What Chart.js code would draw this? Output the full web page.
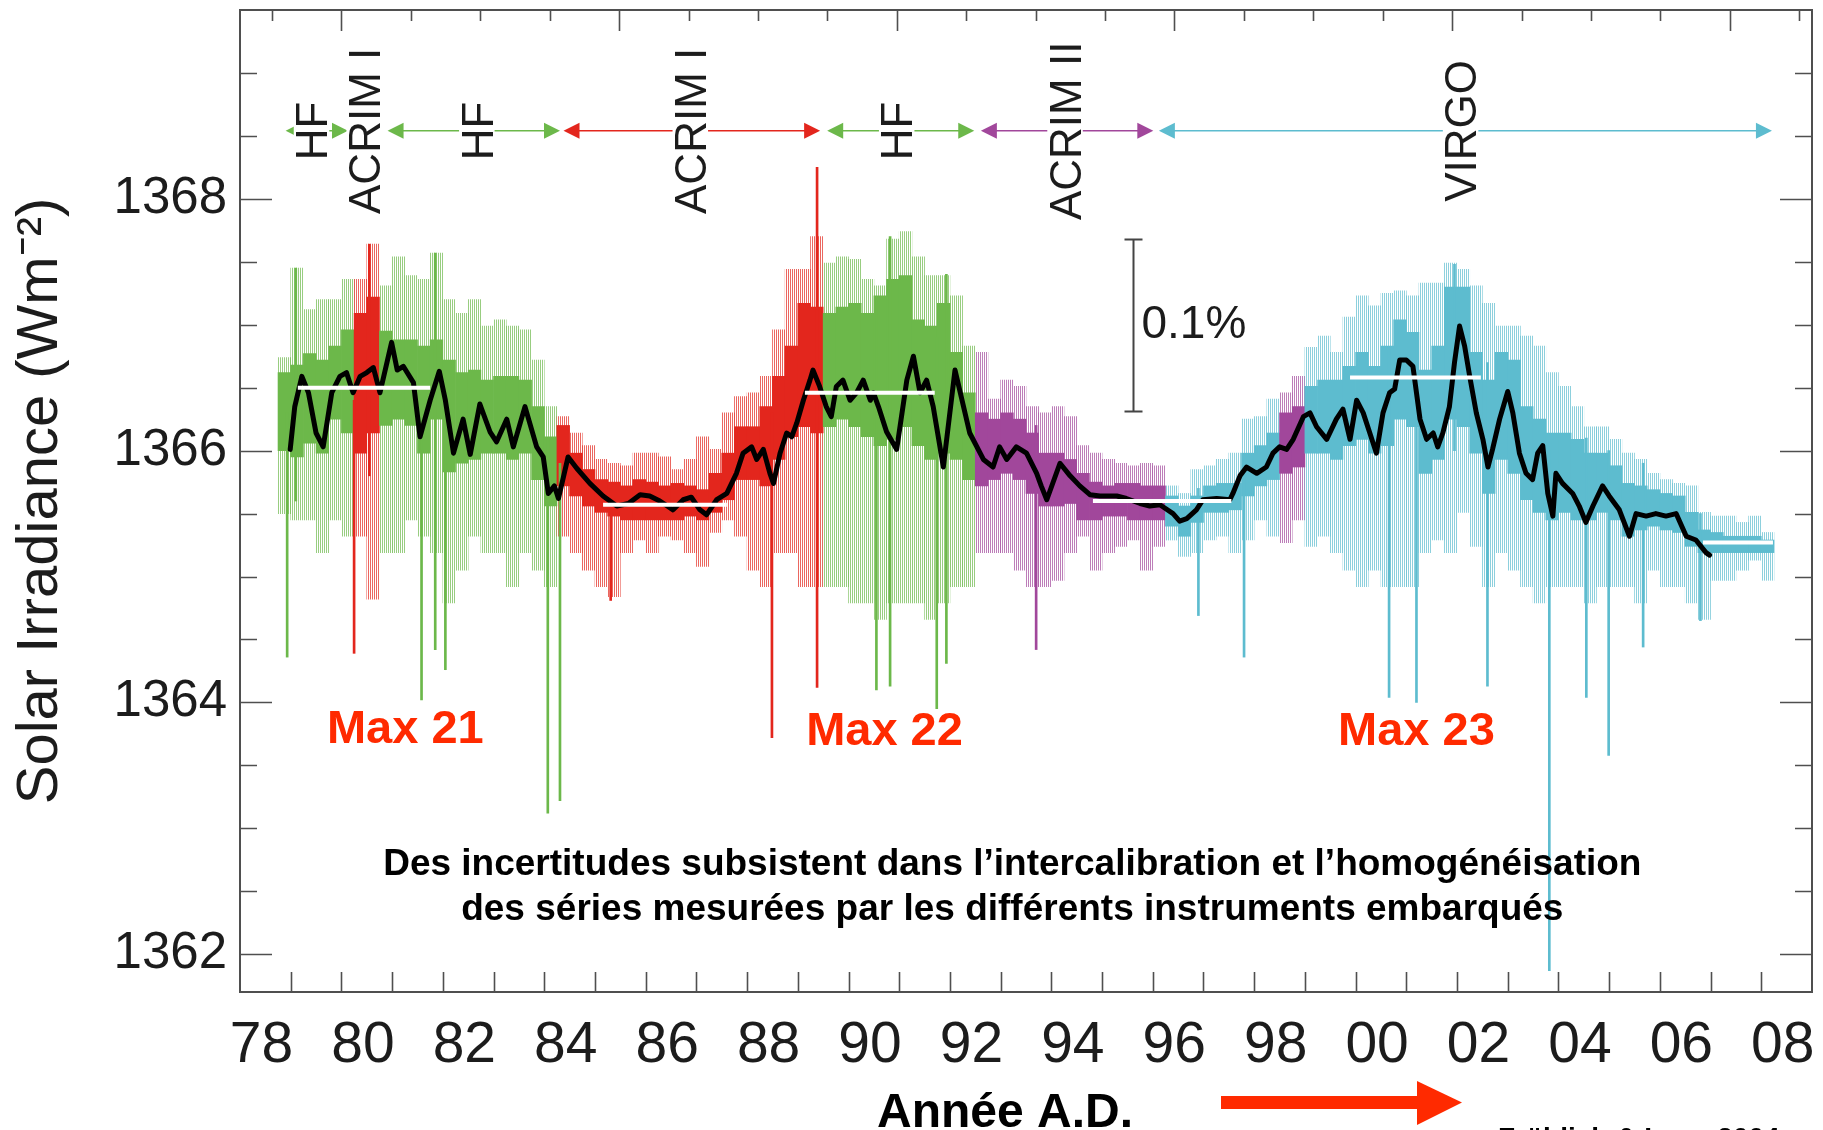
<!DOCTYPE html>
<html>
<head>
<meta charset="utf-8">
<title>Solar Irradiance composite</title>
<script src="https://cdn.jsdelivr.net/npm/chart.js@4.4.1/dist/chart.umd.min.js"></script>
<style>
  html, body { margin: 0; padding: 0; background: #fff; }
  #wrap { width: 1823px; height: 1130px; overflow: hidden; }
</style>
</head>
<body>
<div id="wrap"><canvas id="tsi" width="1823" height="1130"></canvas></div>
<script>
// Daily irradiance, summarised in quarter-year bins (dense core + spread of the spikes)
const binStart = 1978.875;
const binStep = 0.25;
// H = HF, A = ACRIM I, B = ACRIM II, V = VIRGO
const binSource = [
  'H','H','H','H','H','H','A','A','H','H',
  'H','H','H','H','H','H','H','H','H','H',
  'H','H','A','A','A','A','A','A','A','A',
  'A','A','A','A','A','A','A','A','A','A',
  'A','A','A','H','H','H','H','H','H','H',
  'H','H','H','H','H','B','B','B','B','B',
  'B','B','B','B','B','B','B','B','B','B',
  'V','V','V','V','V','V','V','V','V','B',
  'B','V','V','V','V','V','V','V','V','V',
  'V','V','V','V','V','V','V','V','V','V',
  'V','V','V','V','V','V','V','V','V','V',
  'V','V','V','V','V','V','V','V'
];
const coreLow = [
  1366.00, 1365.95, 1366.06, 1365.98, 1366.25, 1366.14, 1365.98, 1366.14, 1366.20, 1366.25,
  1366.20, 1365.98, 1366.25, 1365.83, 1365.90, 1365.93, 1365.98, 1365.98, 1365.93, 1365.98,
  1365.77, 1365.56, 1365.72, 1365.64, 1365.56, 1365.51, 1365.48, 1365.45, 1365.45, 1365.45,
  1365.45, 1365.45, 1365.48, 1365.45, 1365.51, 1365.61, 1365.77, 1365.77, 1365.72, 1365.93,
  1366.11, 1366.19, 1366.14, 1366.19, 1366.25, 1366.19, 1366.11, 1366.04, 1366.09, 1366.19,
  1366.04, 1365.93, 1365.98, 1365.93, 1365.77, 1365.72, 1365.77, 1365.82, 1365.77, 1365.66,
  1365.56, 1365.56, 1365.58, 1365.45, 1365.45, 1365.48, 1365.48, 1365.45, 1365.45, 1365.45,
  1365.40, 1365.32, 1365.43, 1365.51, 1365.51, 1365.53, 1365.64, 1365.72, 1365.77, 1365.82,
  1365.87, 1365.98, 1365.98, 1365.93, 1366.04, 1366.09, 1365.98, 1366.04, 1366.25, 1366.19,
  1365.82, 1365.93, 1366.25, 1366.19, 1365.98, 1365.66, 1365.93, 1365.82, 1365.61, 1365.51,
  1365.45, 1365.51, 1365.45, 1365.45, 1365.51, 1365.45, 1365.32, 1365.37, 1365.40, 1365.37,
  1365.35, 1365.24, 1365.19, 1365.19, 1365.19, 1365.19, 1365.19, 1365.19
];
const coreHigh = [
  1366.62, 1366.68, 1366.77, 1366.72, 1366.83, 1366.96, 1367.09, 1367.22, 1366.95, 1366.88,
  1366.88, 1366.83, 1366.88, 1366.72, 1366.62, 1366.64, 1366.56, 1366.59, 1366.59, 1366.56,
  1366.35, 1366.11, 1366.20, 1365.98, 1365.85, 1365.77, 1365.75, 1365.72, 1365.77, 1365.75,
  1365.72, 1365.74, 1365.72, 1365.69, 1365.82, 1365.98, 1366.19, 1366.19, 1366.35, 1366.59,
  1366.83, 1367.17, 1367.14, 1367.09, 1367.14, 1367.17, 1367.09, 1367.23, 1367.36, 1367.39,
  1367.04, 1366.99, 1367.17, 1366.78, 1366.46, 1366.30, 1366.25, 1366.30, 1366.25, 1366.14,
  1365.98, 1365.98, 1365.93, 1365.82, 1365.75, 1365.72, 1365.74, 1365.74, 1365.72, 1365.72,
  1365.64, 1365.56, 1365.64, 1365.72, 1365.74, 1365.74, 1365.98, 1366.04, 1366.14, 1366.30,
  1366.35, 1366.51, 1366.56, 1366.56, 1366.67, 1366.78, 1366.67, 1366.83, 1367.04, 1366.94,
  1366.64, 1366.83, 1367.30, 1367.30, 1366.78, 1366.56, 1366.78, 1366.72, 1366.35, 1366.25,
  1366.14, 1366.14, 1366.09, 1365.98, 1365.98, 1365.88, 1365.74, 1365.72, 1365.69, 1365.66,
  1365.64, 1365.51, 1365.37, 1365.35, 1365.32, 1365.32, 1365.32, 1365.29
];
const spreadLow = [
  1365.50, 1365.45, 1365.45, 1365.19, 1365.45, 1365.32, 1365.32, 1364.82, 1365.19, 1365.19,
  1365.45, 1365.32, 1365.19, 1364.79, 1365.05, 1365.32, 1365.19, 1365.19, 1364.92, 1365.19,
  1365.05, 1364.92, 1365.32, 1365.19, 1365.05, 1364.92, 1364.84, 1365.19, 1365.29, 1365.19,
  1365.32, 1365.29, 1365.19, 1365.08, 1365.35, 1365.45, 1365.32, 1365.05, 1364.92, 1365.19,
  1365.19, 1364.92, 1364.92, 1364.92, 1364.92, 1364.79, 1364.79, 1364.66, 1364.79, 1364.79,
  1364.79, 1364.66, 1364.79, 1364.92, 1364.92, 1365.19, 1365.19, 1365.19, 1365.05, 1364.92,
  1364.92, 1364.97, 1365.19, 1365.32, 1365.05, 1365.19, 1365.24, 1365.29, 1365.05, 1365.24,
  1365.29, 1365.16, 1365.19, 1365.29, 1365.32, 1365.19, 1365.29, 1365.45, 1365.32, 1365.27,
  1365.45, 1365.24, 1365.32, 1365.19, 1365.05, 1364.92, 1365.05, 1364.92, 1364.92, 1364.92,
  1365.19, 1365.29, 1365.19, 1365.51, 1365.24, 1364.92, 1365.19, 1365.05, 1364.92, 1364.79,
  1364.92, 1364.92, 1364.92, 1364.79, 1364.92, 1364.92, 1364.92, 1364.79, 1365.05, 1364.92,
  1364.92, 1364.79, 1364.66, 1364.97, 1364.97, 1365.05, 1365.13, 1364.97
];
const spreadHigh = [
  1366.74, 1367.45, 1367.12, 1367.20, 1367.20, 1367.36, 1367.36, 1367.64, 1367.31, 1367.54,
  1367.39, 1367.36, 1367.57, 1367.20, 1367.09, 1367.20, 1366.99, 1367.04, 1366.99, 1366.96,
  1366.72, 1366.35, 1366.27, 1366.14, 1366.04, 1365.93, 1365.90, 1365.88, 1365.98, 1365.98,
  1365.95, 1365.85, 1365.93, 1366.11, 1366.01, 1366.30, 1366.43, 1366.46, 1366.59, 1366.96,
  1367.44, 1367.44, 1367.70, 1367.49, 1367.54, 1367.52, 1367.36, 1367.31, 1367.68, 1367.74,
  1367.54, 1367.39, 1367.39, 1367.23, 1366.83, 1366.78, 1366.41, 1366.56, 1366.51, 1366.35,
  1366.30, 1366.35, 1366.27, 1366.04, 1365.98, 1365.93, 1365.90, 1365.88, 1365.90, 1365.88,
  1365.72, 1365.66, 1365.85, 1365.88, 1365.93, 1365.98, 1366.25, 1366.27, 1366.41, 1366.46,
  1366.59, 1366.82, 1366.91, 1366.78, 1367.06, 1367.23, 1367.15, 1367.25, 1367.27, 1367.23,
  1367.33, 1367.33, 1367.49, 1367.44, 1367.31, 1367.17, 1366.99, 1366.99, 1366.91, 1366.83,
  1366.62, 1366.51, 1366.35, 1366.19, 1366.19, 1366.09, 1365.98, 1365.93, 1365.82, 1365.77,
  1365.74, 1365.72, 1365.51, 1365.48, 1365.48, 1365.43, 1365.48, 1365.35
];

// Single long excursions (flares, sunspot passages, gaps)
const spikeYear = [1978.93, 1979.10, 1980.25, 1980.55, 1981.58, 1981.85, 1982.05, 1984.07, 1984.31, 1985.31,
                   1988.49, 1989.38, 1990.55, 1990.82, 1991.74, 1991.93, 1993.70, 1996.90, 1997.80, 2000.66,
                   2001.20, 2001.95, 2002.60, 2003.82, 2004.55, 2004.99, 2005.67, 2006.80];
const spikeLow = [1364.36, 1365.60, 1364.39, 1365.80, 1364.02, 1364.42, 1364.26, 1363.12, 1363.22, 1364.81,
                  1363.72, 1364.12, 1364.10, 1364.13, 1363.95, 1364.31, 1364.42, 1364.69, 1364.36, 1364.04,
                  1364.00, 1366.00, 1364.13, 1361.87, 1364.04, 1363.58, 1364.44, 1364.65];
const spikeHigh = [1366.30, 1367.45, 1366.40, 1367.64, 1366.20, 1367.57, 1366.00, 1366.10, 1365.90, 1365.70,
                   1366.30, 1368.25, 1367.20, 1367.70, 1366.90, 1367.40, 1366.20, 1365.70, 1365.90, 1366.80,
                   1366.90, 1367.48, 1366.70, 1366.00, 1366.10, 1366.00, 1365.90, 1365.50];
const spikeSource = ['H','H','A','A','H','H','H','H','H','A',
                     'A','A','H','H','H','H','B','V','V','V',
                     'V','V','V','V','V','V','V','V'];

// 81-day running mean of the composite
const smoothYears = [
  1978.99, 1979.08, 1979.22, 1979.35, 1979.50, 1979.64, 1979.81, 1979.97, 1980.10, 1980.23,
  1980.37, 1980.50, 1980.63, 1980.76, 1980.99, 1981.10, 1981.22, 1981.42, 1981.55, 1981.75,
  1981.93, 1982.05, 1982.21, 1982.40, 1982.54, 1982.73, 1982.93, 1983.06, 1983.26, 1983.39,
  1983.62, 1983.85, 1983.98, 1984.08, 1984.20, 1984.28, 1984.47, 1984.64, 1984.90, 1985.16,
  1985.43, 1985.66, 1985.89, 1986.08, 1986.28, 1986.54, 1986.74, 1986.90, 1987.07, 1987.20,
  1987.40, 1987.60, 1987.79, 1987.92, 1988.09, 1988.19, 1988.32, 1988.45, 1988.52, 1988.65,
  1988.78, 1988.88, 1988.98, 1989.11, 1989.24, 1989.30, 1989.43, 1989.56, 1989.66, 1989.76,
  1989.89, 1990.03, 1990.16, 1990.29, 1990.43, 1990.49, 1990.59, 1990.75, 1990.95, 1991.15,
  1991.28, 1991.41, 1991.54, 1991.67, 1991.87, 1992.10, 1992.39, 1992.66, 1992.85, 1992.98,
  1993.12, 1993.31, 1993.51, 1993.71, 1993.80, 1993.91, 1994.17, 1994.37, 1994.56, 1994.76,
  1994.96, 1995.29, 1995.48, 1995.75, 1995.94, 1996.14, 1996.40, 1996.53, 1996.67, 1996.86,
  1996.99, 1997.26, 1997.52, 1997.58, 1997.72, 1997.85, 1998.05, 1998.24, 1998.37, 1998.50,
  1998.64, 1998.77, 1998.97, 1999.10, 1999.23, 1999.43, 1999.62, 1999.75, 1999.89, 2000.02,
  2000.15, 2000.28, 2000.41, 2000.54, 2000.67, 2000.77, 2000.87, 2001.00, 2001.13, 2001.27,
  2001.40, 2001.53, 2001.62, 2001.72, 2001.85, 2001.95, 2002.05, 2002.15, 2002.25, 2002.38,
  2002.51, 2002.61, 2002.70, 2002.84, 2003.00, 2003.10, 2003.23, 2003.36, 2003.49, 2003.59,
  2003.69, 2003.79, 2003.89, 2003.95, 2004.08, 2004.28, 2004.41, 2004.54, 2004.68, 2004.87,
  2005.00, 2005.20, 2005.40, 2005.53, 2005.73, 2005.92, 2006.12, 2006.32, 2006.52, 2006.71,
  2006.91, 2006.98
];
const smoothValues = [
  1366.01, 1366.35, 1366.59, 1366.46, 1366.14, 1366.03, 1366.46, 1366.59, 1366.62, 1366.46,
  1366.59, 1366.62, 1366.66, 1366.46, 1366.86, 1366.64, 1366.67, 1366.54, 1366.11, 1366.40,
  1366.63, 1366.40, 1365.98, 1366.25, 1365.97, 1366.37, 1366.15, 1366.07, 1366.25, 1366.03,
  1366.35, 1366.03, 1365.95, 1365.66, 1365.72, 1365.62, 1365.95, 1365.86, 1365.74, 1365.64,
  1365.56, 1365.58, 1365.65, 1365.64, 1365.60, 1365.53, 1365.61, 1365.63, 1365.53, 1365.49,
  1365.61, 1365.66, 1365.82, 1365.98, 1366.03, 1365.93, 1366.01, 1365.82, 1365.74, 1365.98,
  1366.14, 1366.11, 1366.22, 1366.40, 1366.56, 1366.64, 1366.51, 1366.35, 1366.27, 1366.51,
  1366.56, 1366.40, 1366.46, 1366.56, 1366.40, 1366.46, 1366.35, 1366.15, 1366.01, 1366.56,
  1366.75, 1366.46, 1366.56, 1366.35, 1365.87, 1366.64, 1366.14, 1365.93, 1365.87, 1366.03,
  1365.93, 1366.03, 1365.98, 1365.82, 1365.72, 1365.61, 1365.90, 1365.80, 1365.72, 1365.65,
  1365.64, 1365.64, 1365.62, 1365.58, 1365.56, 1365.57, 1365.50, 1365.44, 1365.46, 1365.53,
  1365.61, 1365.62, 1365.61, 1365.66, 1365.80, 1365.87, 1365.82, 1365.87, 1365.98, 1366.03,
  1366.01, 1366.09, 1366.27, 1366.30, 1366.19, 1366.09, 1366.25, 1366.33, 1366.09, 1366.40,
  1366.30, 1366.14, 1365.98, 1366.30, 1366.46, 1366.49, 1366.72, 1366.72, 1366.67, 1366.25,
  1366.09, 1366.14, 1366.03, 1366.14, 1366.35, 1366.70, 1366.99, 1366.83, 1366.59, 1366.30,
  1366.09, 1365.87, 1366.01, 1366.25, 1366.47, 1366.30, 1365.98, 1365.82, 1365.77, 1365.98,
  1366.04, 1365.66, 1365.48, 1365.82, 1365.74, 1365.66, 1365.56, 1365.43, 1365.56, 1365.72,
  1365.64, 1365.53, 1365.32, 1365.50, 1365.48, 1365.50, 1365.48, 1365.50, 1365.32, 1365.29,
  1365.19, 1365.17
];

// Mean levels around each maximum and minimum
const levelStart = [1979.14, 1985.16, 1989.14, 1994.82, 1999.89, 2006.85];
const levelEnd = [1981.75, 1987.60, 1991.70, 1997.55, 2002.47, 2008.23];
const levelValue = [1366.50, 1365.57, 1366.46, 1365.60, 1366.58, 1365.27];

// Operating periods of the radiometers
const arrowStart = [1978.90, 1980.91, 1984.38, 1989.58, 1992.61, 1996.12];
const arrowEnd = [1980.13, 1984.31, 1989.44, 1992.48, 1996.01, 2008.21];
const arrowSource = ['H', 'H', 'A', 'H', 'B', 'V'];
const instrumentNames = ['HF', 'ACRIM I', 'HF', 'ACRIM I', 'HF', 'ACRIM II', 'VIRGO'];
const instrumentYears = [1979.41, 1980.45, 1982.67, 1986.88, 1990.95, 1994.27, 2002.07];
const arrowLevel = 1368.54;

const cycleNames = ['Max 21', 'Max 22', 'Max 23'];
const cycleYears = [1981.26, 1990.71, 2001.20];
const cycleLabelValue = [1363.68, 1363.66, 1363.66];

const scaleBarYear = 1995.61;
const scaleBarBase = 1366.31;
const scaleBarFraction = 0.001;

const noteLines = [
  'Des incertitudes subsistent dans l\u2019intercalibration et l\u2019homog\u00e9n\u00e9isation',
  'des s\u00e9ries mesur\u00e9es par les diff\u00e9rents instruments embarqu\u00e9s'
];
const noteYear = 1993.23;
const noteValues = [1362.63, 1362.27];

const SANS = '"Liberation Sans", Arial, Helvetica, sans-serif';
const INK = '#1c1c1c';
const FRAME = '#4f4f4f';
const ACCENT = '#ff2a00';
const sourceColor = { H: '#6cb84a', A: '#e3261d', B: '#a1479b', V: '#5dbccf' };

const canvas = document.getElementById('tsi');
const ctx2d = canvas.getContext('2d');

// thin vertical hatching for the spike spread
function stripePattern(color) {
  const tile = document.createElement('canvas');
  tile.width = 2;
  tile.height = 1;
  const t = tile.getContext('2d');
  t.globalAlpha = 0.7;
  t.fillStyle = color;
  t.fillRect(0, 0, 1, 1);
  return ctx2d.createPattern(tile, 'repeat');
}
const sourceHaze = {};
Object.keys(sourceColor).forEach(k => { sourceHaze[k] = stripePattern(sourceColor[k]); });

const binYears = coreLow.map((_, i) => binStart + i * binStep);
const hazeData = binYears.map((x, i) => ({ x, y: [spreadLow[i], spreadHigh[i]] }));
const coreData = binYears.map((x, i) => ({ x, y: [coreLow[i], coreHigh[i]] }));
const spikeData = spikeYear.map((x, i) => ({ x, y: [spikeLow[i], spikeHigh[i]] }));
const smoothData = smoothYears.map((x, i) => ({ x, y: smoothValues[i] }));
const levelData = [];
levelStart.forEach((s, i) => {
  levelData.push({ x: s, y: levelValue[i] }, { x: levelEnd[i], y: levelValue[i] }, { x: levelEnd[i], y: null });
});

const xMin = 1978, xMax = 2009;

// frame with inward tick marks on all four sides
const framePlugin = {
  id: 'frame',
  afterDatasetsDraw(chart) {
    const { ctx, chartArea: a, scales: { x, y } } = chart;
    ctx.save();
    ctx.strokeStyle = FRAME;
    ctx.lineWidth = 1.6;
    ctx.beginPath();
    x.ticks.forEach(t => {
      if (t.value <= xMin || t.value >= xMax) return;
      const px = Math.round(x.getPixelForValue(t.value)) + 0.5;
      ctx.moveTo(px, a.bottom);
      ctx.lineTo(px, a.bottom - 20);
    });
    // top axis counts days from 1980, a tick every 500 days
    const dayMin = (xMin - 1980) * 365.25, dayMax = (xMax - 1980) * 365.25;
    for (let d = Math.ceil(dayMin / 500) * 500; d < dayMax; d += 500) {
      const px = Math.round(x.getPixelForValue(1980 + d / 365.25)) + 0.5;
      ctx.moveTo(px, a.top);
      ctx.lineTo(px, a.top + (d % 2000 === 0 ? 21 : 11));
    }
    y.ticks.forEach(t => {
      if (t.value <= y.min || t.value >= y.max) return;
      const py = Math.round(y.getPixelForValue(t.value)) + 0.5;
      const len = t.value % 2 === 0 ? 32 : 17;
      ctx.moveTo(a.left, py);
      ctx.lineTo(a.left + len, py);
      ctx.moveTo(a.right, py);
      ctx.lineTo(a.right - len, py);
    });
    ctx.stroke();
    ctx.lineWidth = 2;
    ctx.strokeRect(a.left, a.top, a.right - a.left, a.bottom - a.top);
    ctx.restore();
  }
};

function arrowHead(ctx, tipX, y, dir, len, half) {
  ctx.beginPath();
  ctx.moveTo(tipX, y);
  ctx.lineTo(tipX + dir * len, y - half);
  ctx.lineTo(tipX + dir * len, y + half);
  ctx.closePath();
  ctx.fill();
}

// instrument periods, cycle labels, 0.1 % bar and the slide captions
const notesPlugin = {
  id: 'notes',
  afterDraw(chart) {
    const { ctx, scales: { x, y } } = chart;
    ctx.save();

    const ay = y.getPixelForValue(arrowLevel);
    arrowStart.forEach((s, i) => {
      const x0 = x.getPixelForValue(s), x1 = x.getPixelForValue(arrowEnd[i]);
      const c = sourceColor[arrowSource[i]];
      ctx.strokeStyle = c;
      ctx.fillStyle = c;
      ctx.lineWidth = 1.5;
      ctx.beginPath();
      ctx.moveTo(x0 + 8, ay);
      ctx.lineTo(x1 - 8, ay);
      ctx.stroke();
      arrowHead(ctx, x0, ay, 1, 16, 8);
      arrowHead(ctx, x1, ay, -1, 16, 8);
    });

    const labelSize = 44;
    const capH = labelSize * 0.716;
    ctx.font = labelSize + 'px ' + SANS;
    instrumentNames.forEach((name, i) => {
      const cx = x.getPixelForValue(instrumentYears[i]);
      const w = ctx.measureText(name).width;
      ctx.save();
      ctx.translate(cx, ay);
      ctx.rotate(-Math.PI / 2);
      ctx.fillStyle = '#fff';
      ctx.fillRect(-w / 2 - 3, -capH / 2 - 2, w + 6, capH + 4);
      ctx.fillStyle = INK;
      ctx.textAlign = 'center';
      ctx.textBaseline = 'alphabetic';
      ctx.fillText(name, 0, capH / 2);
      ctx.restore();
    });

    // 0.1 % of the irradiance as a vertical bar
    const bx = Math.round(x.getPixelForValue(scaleBarYear)) + 0.5;
    const bTop = y.getPixelForValue(scaleBarBase * (1 + scaleBarFraction));
    const bBot = y.getPixelForValue(scaleBarBase);
    ctx.strokeStyle = '#444';
    ctx.lineWidth = 2;
    ctx.beginPath();
    ctx.moveTo(bx, bTop); ctx.lineTo(bx, bBot);
    ctx.moveTo(bx - 9, bTop); ctx.lineTo(bx + 9, bTop);
    ctx.moveTo(bx - 9, bBot); ctx.lineTo(bx + 9, bBot);
    ctx.stroke();
    ctx.fillStyle = INK;
    ctx.font = '46px ' + SANS;
    ctx.textAlign = 'left';
    ctx.textBaseline = 'alphabetic';
    ctx.fillText((scaleBarFraction * 100).toFixed(1) + '%', bx + 8, (bTop + bBot) / 2 + 12);

    ctx.fillStyle = ACCENT;
    ctx.font = 'bold 47px ' + SANS;
    ctx.textAlign = 'center';
    cycleNames.forEach((name, i) => {
      ctx.fillText(name, x.getPixelForValue(cycleYears[i]), y.getPixelForValue(cycleLabelValue[i]));
    });

    ctx.fillStyle = '#000';
    ctx.font = 'bold 37px ' + SANS;
    noteLines.forEach((line, i) => {
      ctx.fillText(line, x.getPixelForValue(noteYear), y.getPixelForValue(noteValues[i]));
    });

    // axis caption with the time arrow
    ctx.font = 'bold 48px ' + SANS;
    ctx.fillText('Ann\u00e9e A.D.', 1005, 1127);
    ctx.fillStyle = ACCENT;
    ctx.fillRect(1221, 1096, 197, 13);
    ctx.beginPath();
    ctx.moveTo(1417, 1081);
    ctx.lineTo(1462, 1102.5);
    ctx.lineTo(1417, 1125);
    ctx.closePath();
    ctx.fill();

    ctx.fillStyle = '#000';
    ctx.font = 'bold 28px ' + SANS;
    ctx.textAlign = 'left';
    ctx.fillText('Fr\u00f6hlich & Lean 2004', 1498, 1147);
    ctx.restore();
  }
};

// keep the plot frame where it is, whatever the tick labels need
function pinBox(size) {
  return s => {
    if (s.isHorizontal()) s.height = size; else s.width = size;
    s.paddingTop = 0;
    s.paddingBottom = 0;
    s.paddingLeft = 0;
    s.paddingRight = 0;
  };
}

new Chart(canvas, {
  type: 'bar',
  data: {
    datasets: [
      {
        label: 'spread',
        data: hazeData,
        xAxisID: 'x',
        grouped: false,
        barPercentage: 1,
        categoryPercentage: 1,
        borderWidth: 0,
        backgroundColor: c => sourceHaze[binSource[c.dataIndex]],
        order: 6
      },
      {
        label: 'daily core',
        data: coreData,
        xAxisID: 'x',
        grouped: false,
        barPercentage: 1,
        categoryPercentage: 1,
        borderWidth: 0,
        backgroundColor: c => sourceColor[binSource[c.dataIndex]],
        order: 5
      },
      {
        label: 'spikes',
        data: spikeData,
        xAxisID: 'xs',
        grouped: false,
        barThickness: 2,
        borderWidth: 0,
        backgroundColor: c => sourceColor[spikeSource[c.dataIndex]],
        order: 4
      },
      {
        type: 'line',
        label: '81-day mean',
        data: smoothData,
        xAxisID: 'x',
        borderColor: '#000',
        borderWidth: 5,
        borderJoinStyle: 'round',
        borderCapStyle: 'round',
        pointRadius: 0,
        tension: 0,
        order: 2
      },
      {
        type: 'line',
        label: 'cycle levels',
        data: levelData,
        xAxisID: 'x',
        borderColor: '#fff',
        borderWidth: 4,
        pointRadius: 0,
        spanGaps: false,
        order: 1
      }
    ]
  },
  options: {
    responsive: false,
    animation: false,
    devicePixelRatio: 1,
    layout: { padding: { top: 10, right: 11, bottom: 0, left: 0 } },
    plugins: { legend: { display: false }, tooltip: { enabled: false } },
    scales: {
      x: {
        type: 'linear',
        min: xMin,
        max: xMax,
        offset: false,
        grid: { display: false, drawTicks: false, offset: false },
        border: { display: false },
        ticks: {
          stepSize: 1,
          autoSkip: false,
          maxRotation: 0,
          padding: 20,
          labelOffset: 21.5,
          color: INK,
          font: { family: SANS, size: 57 },
          callback: v => (v % 2 === 0 ? String(v).slice(2) : '')
        },
        afterFit: pinBox(138)
      },
      xs: {
        type: 'linear',
        min: xMin,
        max: xMax,
        offset: false,
        display: false
      },
      y: {
        min: 1361.7,
        max: 1369.5,
        grid: { display: false, drawTicks: false },
        border: { display: false },
        ticks: {
          stepSize: 0.5,
          autoSkip: false,
          includeBounds: false,
          padding: 13,
          color: INK,
          font: { family: SANS, size: 51 },
          callback: v => (Number.isInteger(v) && v % 2 === 0 ? String(v) : '')
        },
        title: {
          display: true,
          text: 'Solar Irradiance (Wm\u207b\u00b2)',
          color: INK,
          font: { family: SANS, size: 58 },
          padding: { top: 6, bottom: 0 }
        },
        afterFit: pinBox(240)
      }
    }
  },
  plugins: [framePlugin, notesPlugin]
});
</script>
</body>
</html>
